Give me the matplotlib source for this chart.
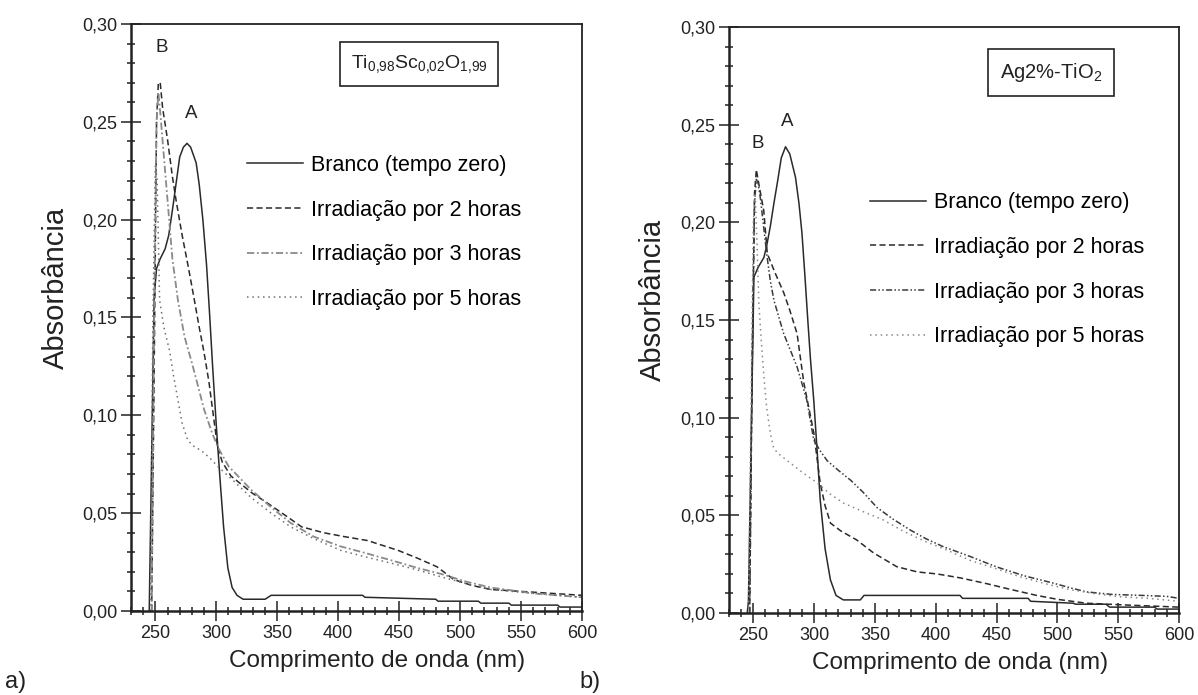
import numpy as np
import matplotlib
matplotlib.use('Agg')
import matplotlib.pyplot as plt
from matplotlib.ticker import MultipleLocator, FuncFormatter

plt.rcParams['font.family'] = ['Liberation Sans', 'DejaVu Sans']
plt.rcParams['mathtext.default'] = 'regular'

# ---- panel a) Ti0,98Sc0,02O1,99 ----
a_branco_x = [245, 247, 249, 251, 254, 258, 261, 264.5, 270, 273, 276, 279, 283.5, 286, 289, 292,
              294.5, 297, 300, 303, 306, 309.5, 313, 317, 322, 340, 345, 420, 422, 480, 482, 515,
              517, 540, 542, 580, 582, 600]
a_branco_y = [0.0, 0.08, 0.16, 0.175, 0.18, 0.185, 0.192, 0.207, 0.232, 0.237, 0.239, 0.237, 0.229,
              0.218, 0.200, 0.177, 0.152, 0.125, 0.095, 0.068, 0.043, 0.022, 0.012, 0.008, 0.006,
              0.006, 0.008, 0.008, 0.007, 0.006, 0.005, 0.005, 0.004, 0.004, 0.003, 0.003, 0.002,
              0.002]
a_2h_x = [247, 249, 251, 252.5, 254, 256, 260, 264, 267, 272, 277, 282, 286, 290, 294, 298, 301,
          305, 312, 320, 330, 340, 354, 370, 388, 405, 424, 449, 465, 481, 495, 510, 525, 550, 575,
          600]
a_2h_y = [0.0, 0.12, 0.25, 0.27, 0.27, 0.257, 0.241, 0.222, 0.21, 0.192, 0.176, 0.159, 0.145,
          0.132, 0.117, 0.098, 0.084, 0.076, 0.069, 0.065, 0.060, 0.056, 0.050, 0.043, 0.040,
          0.038, 0.036, 0.031, 0.027, 0.0226, 0.016, 0.013, 0.011, 0.010, 0.009, 0.008]
a_3h_x = [247, 249, 251, 252.5, 254, 256, 260, 264, 268.5, 274, 279.5, 285, 290, 296, 301, 310,
          328.5, 345, 361, 380, 402, 420, 443, 465, 484, 505, 525, 560, 600]
a_3h_y = [0.0, 0.15, 0.25, 0.265, 0.255, 0.24, 0.21, 0.18, 0.159, 0.14, 0.128, 0.115, 0.103,
          0.092, 0.084, 0.074, 0.062, 0.053, 0.045, 0.038, 0.033, 0.030, 0.026, 0.022, 0.019,
          0.015, 0.012, 0.009, 0.007]
a_5h_x = [246, 248, 250, 251.5, 253.5, 257, 261.7, 265, 268.5, 272, 276.7, 282, 287.6, 295, 301,
          315, 328.5, 345, 361, 380, 402, 420, 443, 465, 484, 505, 525, 560, 600]
a_5h_y = [0.0, 0.15, 0.228, 0.22, 0.159, 0.145, 0.133, 0.12, 0.108, 0.096, 0.087, 0.084, 0.082,
          0.078, 0.074, 0.066, 0.058, 0.050, 0.043, 0.037, 0.031, 0.028, 0.0245, 0.021, 0.0175,
          0.014, 0.011, 0.009, 0.007]

# ---- panel b) Ag2%-TiO2 ----
b_branco_x = [245, 246, 248, 250.5, 254, 258.7, 261, 264, 267, 269.7, 273, 276.5, 280, 284.7,
              287.5, 290, 292.5, 294.8, 297, 299.7, 302.5, 305, 309, 313.4, 318, 324, 338, 341,
              420, 422, 476, 478, 513, 515, 540, 543, 580, 582, 600]
b_branco_y = [0.0, 0.006, 0.08, 0.172, 0.177, 0.182, 0.188, 0.198, 0.21, 0.22, 0.233, 0.2387,
              0.235, 0.223, 0.21, 0.1945, 0.172, 0.150, 0.13, 0.109, 0.083, 0.058, 0.033, 0.017,
              0.009, 0.0067, 0.0067, 0.009, 0.009, 0.0075, 0.0075, 0.006, 0.005, 0.0045, 0.0045,
              0.003, 0.003, 0.002, 0.002]
b_2h_x = [247, 249, 251, 252.5, 255, 258.6, 261.5, 268, 275, 280, 286, 291.5, 296, 299.8, 305,
          309, 313.5, 322, 335, 349, 368, 385, 401, 420, 442, 462, 483, 500, 524, 560, 600]
b_2h_y = [0.0, 0.12, 0.215, 0.227, 0.218, 0.206, 0.184, 0.174, 0.164, 0.155, 0.143, 0.118, 0.104,
          0.092, 0.0666, 0.055, 0.046, 0.042, 0.0374, 0.0307, 0.0237, 0.021, 0.020, 0.018, 0.015,
          0.012, 0.009, 0.007, 0.005, 0.004, 0.003]
b_3h_x = [247, 249, 251, 252.5, 254, 256, 259, 261, 264, 267, 275, 286, 294, 299.7, 305, 310.7,
          320, 330, 340, 351.7, 365, 379, 392, 406, 428, 450, 473, 496, 510, 524, 545, 570, 590,
          600]
b_3h_y = [0.0, 0.13, 0.21, 0.222, 0.22, 0.2115, 0.195, 0.184, 0.17, 0.16, 0.143, 0.126, 0.109,
          0.0886, 0.083, 0.078, 0.073, 0.068, 0.062, 0.054, 0.048, 0.0425, 0.038, 0.034, 0.029,
          0.0236, 0.019, 0.0154, 0.013, 0.0108, 0.0095, 0.009, 0.0085, 0.0075]
b_5h_x = [246, 248, 250, 251.5, 253, 254.6, 256.5, 258.7, 261, 264, 266.5, 269.7, 280, 291,
          302.5, 313, 324, 340, 357, 373, 390, 410, 428, 448, 469, 490, 510, 530, 551, 575, 600]
b_5h_y = [0.0, 0.1, 0.2, 0.215, 0.19, 0.158, 0.14, 0.121, 0.105, 0.092, 0.085, 0.082, 0.077,
          0.0717, 0.0666, 0.061, 0.0563, 0.052, 0.0476, 0.042, 0.037, 0.032, 0.027, 0.023,
          0.0186, 0.015, 0.012, 0.010, 0.0083, 0.0075, 0.006]

labels = ['Branco (tempo zero)', 'Irradiação por 2 horas',
          'Irradiação por 3 horas', 'Irradiação por 5 horas']
xticks = [250, 300, 350, 400, 450, 500, 550, 600]
yticks = [0.0, 0.05, 0.10, 0.15, 0.20, 0.25, 0.30]

fig = plt.figure(figsize=(11.98, 6.95), dpi=100)
ax_a = fig.add_axes([0.1093, 0.1209, 0.3765, 0.8446])
ax_b = fig.add_axes([0.6085, 0.1180, 0.3756, 0.8431])


def style(ax):
    ax.set_xlim(230, 600)
    ax.set_ylim(0, 0.30)
    ax.set_xticks(xticks)
    ax.set_yticks(yticks)
    ax.xaxis.set_minor_locator(MultipleLocator(10))
    ax.yaxis.set_minor_locator(MultipleLocator(0.01))
    ax.yaxis.set_major_formatter(FuncFormatter(lambda v, _: f'{v:.2f}'.replace('.', ',')))
    ax.tick_params(which='major', direction='inout', length=14, width=1.1, labelsize=13,
                   color='#222222', labelcolor='#222222', pad=3)
    ax.tick_params(which='minor', direction='inout', length=6, width=1.1, color='#222222')
    for s in ax.spines.values():
        s.set_color('#222222')
        s.set_linewidth(1.3)
    ax.spines['left'].set_linewidth(1.8)
    ax.spines['bottom'].set_linewidth(1.8)
    ax.set_xlabel('Comprimento de onda (nm)', fontsize=17.5, color='#222222')
    ax.set_ylabel('Absorbância', fontsize=21, color='#222222')


# panel a
ax = ax_a
style(ax)
ax.plot(a_branco_x, a_branco_y, color='#2a2a2a', lw=1.1, label=labels[0])
ax.plot(a_2h_x, a_2h_y, color='#2a2a2a', lw=1.1, dashes=(4, 2.2), label=labels[1])
ax.plot(a_3h_x, a_3h_y, color='#8a8a8a', lw=1.3, dashes=(4, 1.5, 1, 1.5), label=labels[2])
ax.plot(a_5h_x, a_5h_y, color='#707070', lw=1.1, dashes=(1, 2.5), label=labels[3])
ax.legend(loc='upper left', bbox_to_anchor=(0.257, 0.777), frameon=False, fontsize=15.5,
          handlelength=2.6, handletextpad=0.4, labelspacing=1.1, borderpad=0, borderaxespad=0)
ax.text(255, 0.288, 'B', fontsize=13.5, ha='center', va='center', color='#222222')
ax.text(279.5, 0.254, 'A', fontsize=13.5, ha='center', va='center', color='#222222')
ax.text(0.639, 0.932, r'Ti$_{0{,}98}$Sc$_{0{,}02}$O$_{1{,}99}$', transform=ax.transAxes,
        fontsize=14, ha='center', va='center', color='#222222',
        bbox=dict(boxstyle='square,pad=0.55', fc='white', ec='#222222', lw=1.2))
ax.yaxis.set_label_coords(-0.135, 0.55)
ax.xaxis.set_label_coords(0.545, -0.066)

# panel b
ax = ax_b
style(ax)
ax.plot(b_branco_x, b_branco_y, color='#2a2a2a', lw=1.1, label=labels[0])
ax.plot(b_2h_x, b_2h_y, color='#2a2a2a', lw=1.1, dashes=(4, 2.2), label=labels[1])
ax.plot(b_3h_x, b_3h_y, color='#3a3a3a', lw=1.1, dashes=(4, 1.5, 1, 1.5, 1, 1.5), label=labels[2])
ax.plot(b_5h_x, b_5h_y, color='#8a8a8a', lw=1.1, dashes=(1, 2.5), label=labels[3])
ax.legend(loc='upper left', bbox_to_anchor=(0.313, 0.718), frameon=False, fontsize=15.5,
          handlelength=2.6, handletextpad=0.4, labelspacing=1.1, borderpad=0, borderaxespad=0)
ax.text(254, 0.2405, 'B', fontsize=13.5, ha='center', va='center', color='#222222')
ax.text(278, 0.2516, 'A', fontsize=13.5, ha='center', va='center', color='#222222')
ax.text(0.716, 0.923, r'Ag2%-TiO$_2$', transform=ax.transAxes,
        fontsize=14.5, ha='center', va='center', color='#222222',
        bbox=dict(boxstyle='square,pad=0.6', fc='white', ec='#222222', lw=1.2))
ax.yaxis.set_label_coords(-0.138, 0.534)
ax.xaxis.set_label_coords(0.513, -0.067)

fig.text(0.004, 0.01, 'a)', fontsize=17, color='#222222')
fig.text(0.484, 0.01, 'b)', fontsize=17, color='#222222')

fig.savefig('out.png', dpi=100, facecolor='white')
plt.close(fig)
